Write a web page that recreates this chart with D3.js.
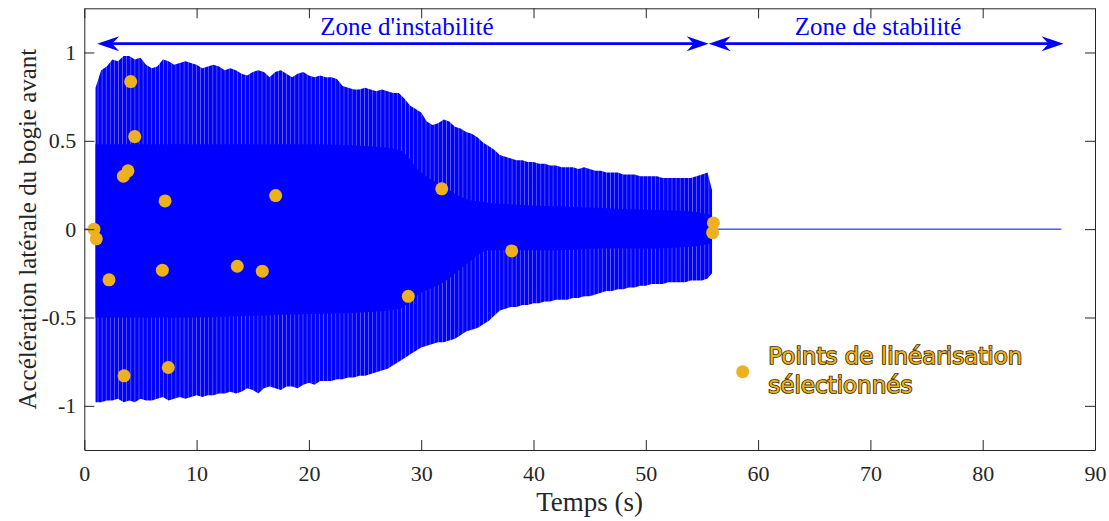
<!DOCTYPE html>
<html><head><meta charset="utf-8">
<script src="https://cdn.jsdelivr.net/npm/d3@7"></script>
<style>body{margin:0;background:#fff} svg{display:block}</style>
</head><body><svg id="c" width="1109" height="521"></svg>
<script>
// ---- data ----
// peak envelope of the lateral acceleration signal (s, g)
const envTime = [
 1.0,1.5,2.0,2.5,3.0,3.5,4.0,4.5,5.0,5.5,
 6.0,6.5,7.0,7.5,8.0,8.5,9.0,9.5,10.0,10.5,
 11.0,11.5,12.0,12.5,13.0,13.5,14.0,14.5,15.0,15.5,
 16.0,16.5,17.0,17.5,18.0,18.5,19.0,19.5,20.0,20.5,
 21.0,21.5,22.0,22.5,23.0,23.5,24.0,24.5,25.0,25.5,
 26.0,26.5,27.0,27.5,28.0,28.5,29.0,29.5,30.0,30.5,
 31.0,31.5,32.0,32.5,33.0,33.5,34.0,34.5,35.0,35.5,
 36.0,36.5,37.0,37.5,38.0,38.5,39.0,39.5,40.0,40.5,
 41.0,41.5,42.0,42.5,43.0,43.5,44.0,44.5,45.0,45.5,
 46.0,46.5,47.0,47.5,48.0,48.5,49.0,49.5,50.0,50.5,
 51.0,51.5,52.0,52.5,53.0,53.5,54.0,54.5,55.0,55.5,
 55.9];
const envUpper = [
 0.80,0.90,0.92,0.96,0.95,0.98,0.98,0.96,0.97,0.93,
 0.91,0.92,0.96,0.95,0.93,0.94,0.95,0.94,0.93,0.91,
 0.92,0.93,0.92,0.90,0.91,0.90,0.88,0.87,0.89,0.90,
 0.89,0.86,0.89,0.90,0.88,0.86,0.88,0.89,0.87,0.86,
 0.87,0.86,0.86,0.85,0.81,0.80,0.79,0.79,0.80,0.79,
 0.78,0.79,0.78,0.77,0.77,0.74,0.70,0.68,0.66,0.61,
 0.59,0.60,0.62,0.61,0.58,0.57,0.55,0.54,0.52,0.49,
 0.47,0.45,0.42,0.41,0.40,0.39,0.39,0.38,0.38,0.37,
 0.37,0.36,0.36,0.35,0.35,0.35,0.34,0.35,0.34,0.33,
 0.33,0.32,0.32,0.32,0.31,0.31,0.31,0.30,0.30,0.30,
 0.30,0.29,0.29,0.29,0.29,0.29,0.29,0.30,0.31,0.32,
 0.22];
const envLower = [
 -0.98,-0.98,-0.97,-0.97,-0.96,-0.98,-0.97,-0.98,-0.96,-0.97,
 -0.97,-0.96,-0.95,-0.97,-0.96,-0.95,-0.96,-0.95,-0.94,-0.95,
 -0.94,-0.94,-0.93,-0.93,-0.92,-0.93,-0.92,-0.90,-0.91,-0.93,
 -0.90,-0.89,-0.90,-0.91,-0.89,-0.89,-0.90,-0.88,-0.87,-0.88,
 -0.86,-0.86,-0.86,-0.85,-0.85,-0.84,-0.84,-0.83,-0.83,-0.82,
 -0.81,-0.80,-0.79,-0.77,-0.75,-0.73,-0.71,-0.69,-0.67,-0.66,
 -0.65,-0.64,-0.64,-0.63,-0.62,-0.60,-0.58,-0.57,-0.56,-0.54,
 -0.52,-0.49,-0.46,-0.45,-0.44,-0.44,-0.43,-0.43,-0.42,-0.42,
 -0.41,-0.41,-0.40,-0.40,-0.40,-0.39,-0.39,-0.38,-0.38,-0.37,
 -0.36,-0.35,-0.35,-0.34,-0.34,-0.33,-0.33,-0.32,-0.32,-0.31,
 -0.31,-0.31,-0.30,-0.30,-0.30,-0.30,-0.29,-0.29,-0.29,-0.28,
 -0.25];
// dense (solid) core of the oscillation
const coreTime  = [1.0, 5, 10, 15, 20, 25, 28, 30, 32, 34, 36, 38, 42, 46, 50, 54, 55.9];
const coreUpper = [0.48,0.48,0.48,0.48,0.48,0.47,0.45,0.32,0.24,0.17,0.15,0.14,0.13,0.12,0.11,0.10,0.08];
const coreLower = [-0.50,-0.50,-0.50,-0.49,-0.48,-0.47,-0.45,-0.36,-0.30,-0.20,-0.12,-0.12,-0.12,-0.11,-0.11,-0.10,-0.08];
// signal at rest (value 0) before the start and after the stop of the oscillation
const restStart = [0, 0.95];
const restEnd   = [55.95, 87.0];
// selected linearisation points
const linTime = [0.86,1.07,2.2,3.54,3.48,3.89,4.13,4.49,6.95,7.19,7.48,13.62,15.85,17.04,28.85,31.83,38.06,55.95,56.02];
const linAcc  = [0.00,-0.055,-0.287,-0.83,0.30,0.33,0.835,0.524,-0.232,0.16,-0.783,-0.21,-0.238,0.19,-0.38,0.228,-0.123,-0.02,0.035];
// zones
const zoneNames = ["Zone d'instabilité", "Zone de stabilité"];
const zoneStart = [1.15, 55.6];
const zoneEnd   = [55.6, 87.2];
const zoneLevel = 1.05;
// axes
const xTicks = [0,10,20,30,40,50,60,70,80,90];
const yTicks = [-1,-0.5,0,0.5,1];
const yTickLabels = ["-1","-0.5","0","0.5","1"];
const xDomain = [0, 90];
const yDomain = [-1.25, 1.25];
const xLabel = "Temps (s)";
const yLabel = "Accélération latérale du bogie avant";
const legendLines = ["Points de linéarisation", "sélectionnés"];

// ---- drawing ----
const W = 1109, H = 521;
const m = {top: 8.3, right: 14, bottom: 71, left: 84.3};
const svg = d3.select("#c");
const x = d3.scaleLinear().domain(xDomain).range([m.left, W - m.right]);
const y = d3.scaleLinear().domain(yDomain).range([H - m.bottom, m.top]);
const blue = "#0000ff", orange = "#EDB120", axisCol = "#262626";
const serif = "'Liberation Serif', 'Times New Roman', serif";

const defs = svg.append("defs");
defs.append("clipPath").attr("id", "clip").append("rect")
  .attr("x", m.left).attr("y", m.top).attr("width", W - m.left - m.right).attr("height", H - m.top - m.bottom);
const pat = defs.append("pattern").attr("id", "strands").attr("patternUnits", "userSpaceOnUse")
  .attr("width", 4.1).attr("height", 20);
pat.append("rect").attr("width", 4.1).attr("height", 20).attr("fill", blue);
pat.append("rect").attr("x", 3.3).attr("width", 0.7).attr("height", 20).attr("fill", "#7070ff");

const g = svg.append("g").attr("clip-path", "url(#clip)");

const env = envTime.map((t, i) => ({t, hi: envUpper[i], lo: envLower[i]}));
const core = coreTime.map((t, i) => ({t, hi: coreUpper[i], lo: coreLower[i]}));
const area = d3.area().x(d => x(d.t)).y0(d => y(d.lo)).y1(d => y(d.hi));

g.append("path").datum(env).attr("d", area).attr("fill", "url(#strands)");
g.append("path").datum(core).attr("d", area.curve(d3.curveMonotoneX)).attr("fill", blue);

const line = d3.line().x(d => x(d)).y(() => y(0));
[restStart, restEnd].forEach(seg => {
  g.append("path").datum(seg).attr("d", line).attr("stroke", blue).attr("stroke-width", 1).attr("fill", "none");
});

g.selectAll("circle.lin").data(linTime.map((t, i) => ({t, a: linAcc[i]}))).join("circle")
  .attr("class", "lin").attr("cx", d => x(d.t)).attr("cy", d => y(d.a)).attr("r", 6.5).attr("fill", orange);

// zone arrows
function head(tx, ty, dir) {
  const L = 22, N = 15, Wd = 7.5;
  return `M${tx},${ty} L${tx - dir * L},${ty - Wd} L${tx - dir * N},${ty} L${tx - dir * L},${ty + Wd} Z`;
}
zoneNames.forEach((name, i) => {
  const x0 = x(zoneStart[i]), x1 = x(zoneEnd[i]), yy = y(zoneLevel);
  svg.append("line").attr("x1", x0 + 14).attr("x2", x1 - 14).attr("y1", yy).attr("y2", yy)
    .attr("stroke", blue).attr("stroke-width", 2.6);
  svg.append("path").attr("d", head(x0, yy, -1)).attr("fill", blue);
  svg.append("path").attr("d", head(x1, yy, 1)).attr("fill", blue);
  svg.append("text").attr("x", (x0 + x1) / 2 + (i === 0 ? 4 : -8)).attr("y", yy - 9)
    .attr("text-anchor", "middle").attr("fill", blue)
    .style("font-family", serif).style("font-size", "25px").text(name);
});

// axes (ticks inward on all four sides, box)
const tickFont = "22px";
const ax = svg.append("g").attr("transform", `translate(0,${H - m.bottom})`)
  .call(d3.axisBottom(x).tickValues(xTicks).tickFormat(d3.format("d")).tickSize(-10).tickSizeOuter(0).tickPadding(15));
const ay = svg.append("g").attr("transform", `translate(${m.left},0)`)
  .call(d3.axisLeft(y).tickValues(yTicks).tickFormat((d, i) => yTickLabels[i]).tickSize(-10).tickSizeOuter(0).tickPadding(8));
const at = svg.append("g").attr("transform", `translate(0,${m.top})`)
  .call(d3.axisTop(x).tickValues(xTicks).tickFormat("").tickSize(-10).tickSizeOuter(0));
const ar = svg.append("g").attr("transform", `translate(${W - m.right},0)`)
  .call(d3.axisRight(y).tickValues(yTicks).tickFormat("").tickSize(-10).tickSizeOuter(0));
[ax, ay, at, ar].forEach(a => {
  a.selectAll("path.domain").attr("stroke", axisCol).attr("stroke-width", 1);
  a.selectAll(".tick line").attr("stroke", axisCol).attr("stroke-width", 1);
  a.selectAll(".tick text").attr("fill", axisCol).style("font-family", serif).style("font-size", tickFont);
});

svg.append("text").attr("x", (x(0) + x(90)) / 2).attr("y", 511).attr("text-anchor", "middle")
  .attr("fill", axisCol).style("font-family", serif).style("font-size", "27px").text(xLabel);
svg.append("text").attr("transform", `translate(36,${(y(yDomain[0]) + y(yDomain[1])) / 2}) rotate(-90)`)
  .attr("text-anchor", "middle").attr("fill", axisCol).style("font-family", serif).style("font-size", "25px").text(yLabel);

// legend
const lgX = 742.7, lgY = 371.7;
svg.append("circle").attr("cx", lgX).attr("cy", lgY).attr("r", 6.5).attr("fill", orange);
legendLines.forEach((s, i) => {
  svg.append("text").attr("x", 768.3).attr("y", 364.3 + i * 28.7)
    .attr("fill", orange).attr("stroke", "#3a2b00").attr("stroke-width", 1.7)
    .style("paint-order", "stroke").style("font-family", "'DejaVu Sans', sans-serif").style("font-size", "23px").text(s);
});
</script></body></html>
